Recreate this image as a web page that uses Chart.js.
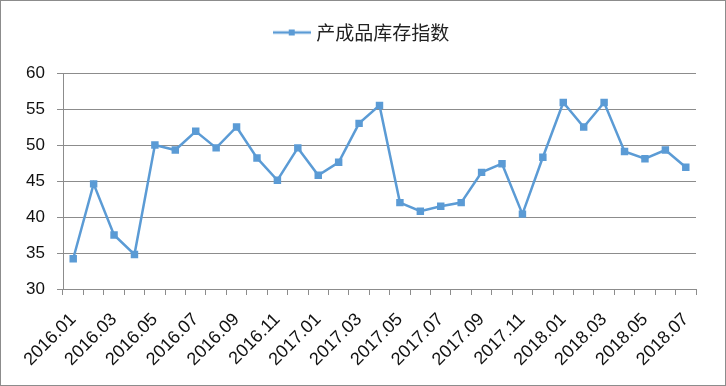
<!DOCTYPE html>
<html>
<head>
<meta charset="utf-8">
<script src="https://cdn.jsdelivr.net/npm/chart.js@4.4.1/dist/chart.umd.min.js"></script>
<style>
  html, body { margin: 0; padding: 0; background: #fff; }
  #wrap { width: 726px; height: 386px; box-sizing: border-box; border: 1px solid #8c8c8c; }
</style>
</head>
<body>
<div id="wrap"><canvas id="chart" width="724" height="384"></canvas></div>
<script>
const months = [
  "2016.01", "2016.02", "2016.03", "2016.04", "2016.05", "2016.06", "2016.07", "2016.08",
  "2016.09", "2016.10", "2016.11", "2016.12", "2017.01", "2017.02", "2017.03", "2017.04",
  "2017.05", "2017.06", "2017.07", "2017.08", "2017.09", "2017.10", "2017.11", "2017.12",
  "2018.01", "2018.02", "2018.03", "2018.04", "2018.05", "2018.06", "2018.07"
];
const inventoryIndex = [
  34.2, 44.6, 37.5, 34.8, 50.0, 49.3, 51.9, 49.6,
  52.5, 48.2, 45.1, 49.6, 45.8, 47.6, 53.0, 55.5,
  42.0, 40.8, 41.5, 42.0, 46.2, 47.4, 40.4, 48.3,
  55.9, 52.5, 55.9, 49.1, 48.1, 49.3, 46.9
];
const seriesName = "产成品库存指数";
const yMin = 30, yMax = 60, yStep = 5;

const blue = "#5b9bd5";
const grey = "#8c8c8c";

// legend key: line with a square marker in the middle
const key = document.createElement("canvas");
key.width = 38; key.height = 8;
const kc = key.getContext("2d");
kc.strokeStyle = blue; kc.lineWidth = 2.5;
kc.beginPath(); kc.moveTo(0, 4); kc.lineTo(38, 4); kc.stroke();
kc.fillStyle = blue; kc.fillRect(16, 1, 6, 6);

// extra room under the legend so the plot starts lower,
// and center the legend on the whole canvas rather than the padded area
const legendGap = {
  id: "legendGap",
  afterInit(chart) {
    const fit = chart.legend.fit;
    chart.legend.fit = function () { fit.call(this); this.height += 21; };
  },
  afterLayout(chart) {
    chart.legend.right = chart.width;
  }
};

new Chart(document.getElementById("chart"), {
  type: "line",
  plugins: [legendGap],
  data: {
    labels: months,
    datasets: [{
      label: seriesName,
      data: inventoryIndex,
      borderColor: blue,
      backgroundColor: blue,
      borderWidth: 2.5,
      pointStyle: "rect",
      pointRadius: 3.5,
      pointHoverRadius: 3.5,
      tension: 0
    }]
  },
  options: {
    responsive: false,
    animation: false,
    layout: { padding: { top: 4, right: 29, left: 0, bottom: 0 } },
    plugins: {
      tooltip: { enabled: false },
      legend: {
        labels: {
          usePointStyle: true,
          pointStyle: key,
          pointStyleWidth: 30,
          color: "#222",
          font: { family: "'Noto Sans CJK SC', sans-serif", size: 19 },
          padding: 18,
          generateLabels: (chart) => [{
            text: seriesName, pointStyle: key, fillStyle: blue, strokeStyle: blue,
            lineWidth: 0, datasetIndex: 0, fontColor: "#222"
          }]
        }
      }
    },
    scales: {
      x: {
        offset: true,
        grid: { offset: true, drawOnChartArea: false, color: grey, tickLength: 6, tickColor: grey },
        border: { color: grey, width: 1 },
        ticks: {
          autoSkip: false,
          maxRotation: 45, minRotation: 45,
          color: "#111",
          padding: 14,
          font: { family: "'Liberation Sans', sans-serif", size: 18 },
          callback: function (v, i) { return i % 2 === 0 ? this.getLabelForValue(v) : ""; }
        },
        afterFit: (s) => { s.height = 384 - 288; }
      },
      y: {
        min: yMin, max: yMax,
        grid: { color: grey, tickLength: 6, tickColor: grey },
        border: { color: grey, width: 1 },
        ticks: {
          stepSize: yStep,
          color: "#111",
          padding: 12,
          font: { family: "'Liberation Sans', sans-serif", size: 17 }
        },
        afterFit: (s) => { s.width = 62; }
      }
    }
  }
});
</script>
</body>
</html>
